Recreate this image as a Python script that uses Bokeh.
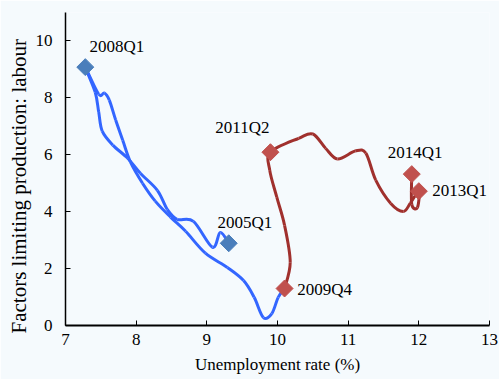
import numpy as np
from bokeh.plotting import figure
from bokeh.models import ColumnDataSource, Range1d, FixedTicker, Title
from bokeh.embed import file_html
from bokeh.resources import INLINE
from bokeh.core.properties import value

# ---- data ----
# 2005Q1 -> 2008Q1 -> 2009Q4 (blue path)
blue_x = [9.31, 9.19, 9.08, 8.81, 8.58, 8.44, 8.30, 8.06, 7.88, 7.67, 7.52, 7.47, 7.42, 7.28,
          7.47, 7.55, 7.62, 7.71, 7.81, 7.92, 8.09, 8.27, 8.49, 8.70, 8.98, 9.29, 9.52, 9.67,
          9.80, 9.92, 10.01, 10.10]
blue_y = [2.89, 3.27, 2.75, 3.66, 3.73, 4.08, 4.75, 5.35, 5.88, 6.34, 6.83, 7.50, 8.20, 9.08,
          8.13, 8.17, 7.92, 7.22, 6.51, 5.74, 5.00, 4.37, 3.80, 3.31, 2.54, 2.04, 1.58, 0.99,
          0.28, 0.42, 0.99, 1.30]
# 2009Q4 -> 2011Q2 -> 2013Q1 -> 2014Q1 (red path)
red_x = [10.10, 10.18, 10.10, 9.99, 9.89, 9.90, 10.30, 10.50, 10.68, 10.85, 11.10, 11.25,
         11.39, 11.60, 11.78, 11.88, 12.00, 11.98, 11.90, 11.90]
red_y = [1.30, 2.22, 3.52, 4.51, 5.46, 6.09, 6.58, 6.73, 6.23, 5.85, 6.13, 6.06,
         5.11, 4.30, 4.01, 4.30, 4.72, 4.15, 4.26, 5.32]

blue_marker_names = ["2005Q1", "2008Q1"]
blue_marker_x = [9.31, 7.28]
blue_marker_y = [2.89, 9.08]
red_marker_names = ["2009Q4", "2011Q2", "2013Q1", "2014Q1"]
red_marker_x = [10.10, 9.90, 12.00, 11.90]
red_marker_y = [1.30, 6.09, 4.72, 5.32]

# label anchor positions (left, middle)
label_text = ["2005Q1", "2008Q1", "2009Q4", "2011Q2", "2013Q1", "2014Q1"]
label_x = [9.15, 7.34, 10.28, 9.12, 12.19, 11.56]
label_y = [3.63, 9.79, 1.27, 6.97, 4.75, 6.09]

x_ticks = [7, 8, 9, 10, 11, 12, 13]
y_ticks = [0, 2, 4, 6, 8, 10]

x_title = "Unemployment rate (%)"
y_title = "Factors limiting production: labour"

FONT = "Liberation Serif"
BG = "#F5FAFD"


def smooth_segments(xs, ys):
    """Catmull-Rom style cubic Bezier control points through the data points."""
    P = np.column_stack([xs, ys]).astype(float)
    n = len(P)
    out = {k: [] for k in ("x0", "y0", "x1", "y1", "cx0", "cy0", "cx1", "cy1")}
    for i in range(n - 1):
        p0 = P[i - 1] if i > 0 else P[i]
        p1 = P[i]
        p2 = P[i + 1]
        p3 = P[i + 2] if i + 2 < n else P[i + 1]
        c1 = p1 + (p2 - p0) / 6.0
        c2 = p2 - (p3 - p1) / 6.0
        out["x0"].append(p1[0]); out["y0"].append(p1[1])
        out["x1"].append(p2[0]); out["y1"].append(p2[1])
        out["cx0"].append(c1[0]); out["cy0"].append(c1[1])
        out["cx1"].append(c2[0]); out["cy1"].append(c2[1])
    return ColumnDataSource(out)


p = figure(
    frame_width=424, frame_height=313,
    min_border_left=65, min_border_right=10, min_border_top=12, min_border_bottom=54,
    x_range=Range1d(7, 13), y_range=Range1d(0, 11),
    output_backend="svg", toolbar_location=None,
    background_fill_color=BG, border_fill_color=BG,
)
p.outline_line_color = None
p.grid.visible = False

for ax in (p.xaxis, p.yaxis):
    ax.axis_line_color = "black"
    ax.major_tick_line_color = "black"
    ax.major_tick_in = 5
    ax.major_tick_out = 0
    ax.minor_tick_line_color = None
    ax.major_label_text_font = FONT
    ax.major_label_text_font_size = "17px"
    ax.major_label_text_color = "black"
    ax.axis_label_text_font = FONT
    ax.axis_label_text_font_style = "normal"
    ax.axis_label_text_color = "black"

p.xaxis.axis_label_text_font_size = "17px"
p.xaxis.axis_line_width = 2
p.yaxis.axis_line_width = 1.5
p.xaxis.ticker = FixedTicker(ticks=x_ticks)
p.yaxis.ticker = FixedTicker(ticks=y_ticks)
p.xaxis.axis_label = x_title
p.xaxis.major_label_standoff = 8
p.xaxis.axis_label_standoff = 7
p.yaxis.major_label_standoff = 13

# vertical axis title in the left margin
p.add_layout(Title(text=y_title, align="left", offset=-8, standoff=3,
                   text_font=FONT, text_font_size="21px", text_font_style="normal",
                   text_color="black"), "left")

p.bezier(x0="x0", y0="y0", x1="x1", y1="y1", cx0="cx0", cy0="cy0", cx1="cx1", cy1="cy1",
         source=smooth_segments(blue_x, blue_y), line_color="#3366FF", line_width=3)
p.bezier(x0="x0", y0="y0", x1="x1", y1="y1", cx0="cx0", cy0="cy0", cx1="cx1", cy1="cy1",
         source=smooth_segments(red_x, red_y), line_color="#A0302D", line_width=3)

p.scatter(x=blue_marker_x, y=blue_marker_y, marker="square", angle=np.pi / 4, size=12,
          fill_color="#4A7EBB", line_color="#4A7EBB")
p.scatter(x=red_marker_x, y=red_marker_y, marker="square", angle=np.pi / 4, size=12,
          fill_color="#C0504D", line_color="#C0504D")

p.text(x=label_x, y=label_y, text=label_text, text_font=value(FONT), text_font_size="17px",
       text_align="left", text_baseline="middle", text_color="black")

open("out.html", "w").write(file_html(p, INLINE))
